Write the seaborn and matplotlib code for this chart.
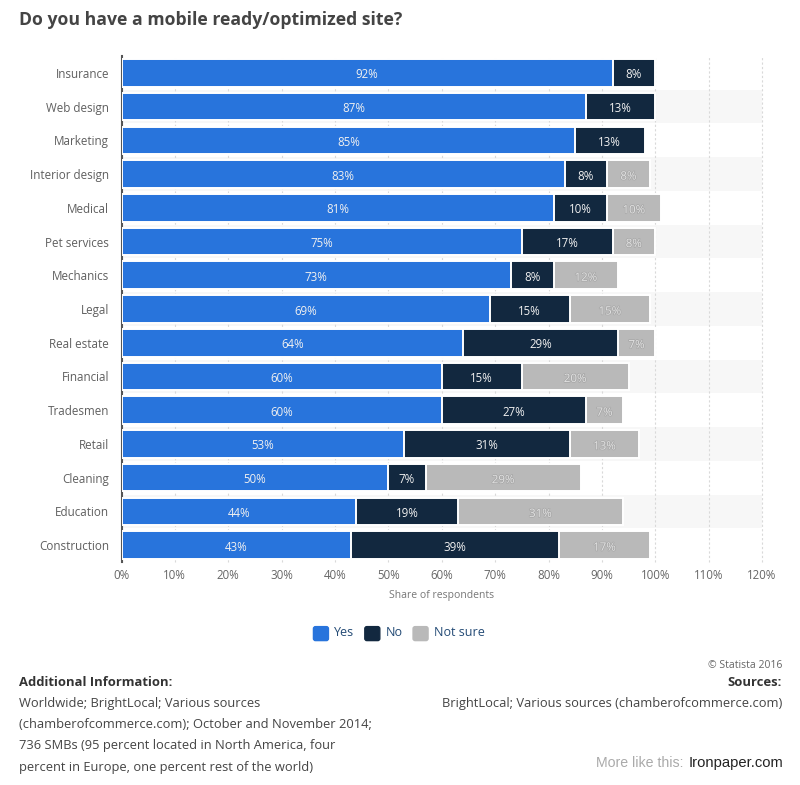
import matplotlib
matplotlib.use("Agg")
import matplotlib.pyplot as plt
import matplotlib.patheffects as pe
from matplotlib.legend_handler import HandlerPatch
from matplotlib.patches import FancyBboxPatch, Patch
import pandas as pd
import seaborn as sns

categories = ["Insurance", "Web design", "Marketing", "Interior design", "Medical",
              "Pet services", "Mechanics", "Legal", "Real estate", "Financial",
              "Tradesmen", "Retail", "Cleaning", "Education", "Construction"]
yes = [92, 87, 85, 83, 81, 75, 73, 69, 64, 60, 60, 53, 50, 44, 43]
no = [8, 13, 13, 8, 10, 17, 8, 15, 29, 15, 27, 31, 7, 19, 39]
not_sure = [0, 0, 0, 8, 10, 8, 12, 15, 7, 20, 7, 13, 29, 31, 17]
x_ticks = list(range(0, 130, 10))
series_names = ["Yes", "No", "Not sure"]

BLUE = "#2874dc"
NAVY = "#12283f"
GRAY = "#b9b9b9"
FONT = "Open Sans"


def rounded_handle(legend, orig_handle, xdescent, ydescent, width, height, fontsize):
    return FancyBboxPatch((-xdescent + 1, -ydescent - 1), width - 2, height,
                          boxstyle="round,pad=1,rounding_size=1.5", mutation_scale=1, lw=0)


sns.set_theme(style="white")
plt.rcParams["font.family"] = FONT

df = pd.DataFrame({"category": categories, "yes": yes, "no": no, "not_sure": not_sure})
df["yes_no"] = df["yes"] + df["no"]
df["total"] = df["yes_no"] + df["not_sure"]

fig = plt.figure(figsize=(8, 7.85), dpi=100)
ax = fig.add_axes([121.5 / 800, 1 - 562 / 785, (762 - 121.5) / 800, 506 / 785])

# stacked look: longest bar first, shorter ones painted over it
bar_opts = dict(y="category", orient="h", width=0.82, edgecolor="white", linewidth=1.4,
                saturation=1, zorder=3)
sns.barplot(data=df, x="total", color=GRAY, ax=ax, **bar_opts)
sns.barplot(data=df, x="yes_no", color=NAVY, ax=ax, **bar_opts)
sns.barplot(data=df, x="yes", color=BLUE, ax=ax, **bar_opts)

ax.set_xlim(0, 120)
ax.set_ylim(14.5, -0.5)
for i in range(1, len(categories), 2):
    ax.axhspan(i - 0.5, i + 0.5, color="#f7f7f7", lw=0, zorder=0)

ax.set_xticks(x_ticks)
ax.set_xticklabels([f"{t}%" for t in x_ticks], fontsize=8.3, color="#666666")
ax.set_yticks(range(len(categories)))
ax.set_yticklabels(categories, fontsize=8.4, color="#5f5f5f")
ax.tick_params(axis="x", length=0, pad=5)
ax.tick_params(axis="y", length=0, pad=9)
ax.grid(axis="x", color="#d9d9d9", linestyle=(0, (2, 2)), linewidth=0.8, zorder=1)
ax.set_axisbelow(True)
for line in ax.get_xgridlines():
    line.set_clip_on(False)
ax.set_xlabel("Share of respondents", fontsize=7.5, color="#777777", labelpad=5.5)
ax.set_ylabel("")

for side in ["top", "right", "bottom"]:
    ax.spines[side].set_visible(False)
ax.spines["left"].set_color("#555555")
ax.spines["left"].set_linewidth(1.5)

# value labels
for i in range(len(categories)):
    ax.text(yes[i] / 2, i + 0.06, f"{yes[i]}%", color="#f0f0f0", fontsize=8.3,
            ha="center", va="center", zorder=5)
    ax.text(yes[i] + no[i] / 2, i + 0.06, f"{no[i]}%", color="#f0f0f0", fontsize=8.3,
            ha="center", va="center", zorder=5)
    if not_sure[i] > 0:
        ax.text(yes[i] + no[i] + not_sure[i] / 2, i + 0.06, f"{not_sure[i]}%", color="#e2e2e2",
                fontsize=8.3, ha="center", va="center", zorder=5,
                path_effects=[pe.withStroke(linewidth=1.0, foreground="#a6a6a6")])

handles = [Patch(color=c) for c in [BLUE, NAVY, GRAY]]
fig.legend(handles, series_names, ncol=3, loc="center",
           bbox_to_anchor=(399 / 800, 1 - 633 / 785), frameon=False,
           fontsize=9, handlelength=1.2, handleheight=1.0, handletextpad=0.45,
           columnspacing=0.85, labelcolor="#234a75",
           handler_map={Patch: HandlerPatch(patch_func=rounded_handle)})

fig.text(19 / 800, 1 - 20 / 785, "Do you have a mobile ready/optimized site?", fontsize=12.66,
         fontweight="bold", color="#444444", ha="left", va="center")

fig.text(19 / 800, 1 - 682 / 785, "Additional Information:", fontsize=9.4, fontweight="bold",
         color="#333333", ha="left", va="center")
info_lines = ["Worldwide; BrightLocal; Various sources",
              "(chamberofcommerce.com); October and November 2014;",
              "736 SMBs (95 percent located in North America, four",
              "percent in Europe, one percent rest of the world)"]
for n, line in enumerate(info_lines):
    fig.text(19 / 800, 1 - (704 + n * 21) / 785, line, fontsize=9.3, color="#444444",
             ha="left", va="center")

fig.text(782 / 800, 1 - 665 / 785, "© Statista 2016", fontsize=7.5, color="#666666",
         ha="right", va="center")
fig.text(782 / 800, 1 - 682 / 785, "Sources:", fontsize=9.4, fontweight="bold",
         color="#333333", ha="right", va="center")
fig.text(782 / 800, 1 - 704 / 785, "BrightLocal; Various sources (chamberofcommerce.com)",
         fontsize=9.3, color="#444444", ha="right", va="center")

fig.text(684 / 800, 1 - 763 / 785, "More like this:", fontsize=10.2, color="#aaaaaa",
         family="Liberation Sans", ha="right", va="center")
fig.text(689 / 800, 1 - 763 / 785, "Ironpaper.com", fontsize=10.6, color="#222222",
         family="Liberation Sans", ha="left", va="center")

fig.savefig("out.png", dpi=100)
plt.close(fig)
